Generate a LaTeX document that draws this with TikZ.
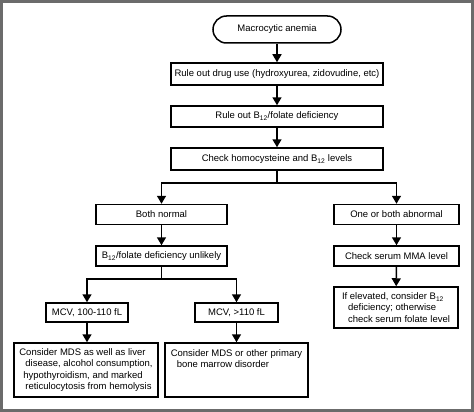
\documentclass[tikz,border=0pt]{standalone}
\usepackage{fontspec}
\setmainfont{Liberation Sans}
\usetikzlibrary{positioning}
\usetikzlibrary{arrows.meta}

\begin{document}
\begin{tikzpicture}[x=1pt, y=-1pt,
    font=\fontsize{9.5}{11.4}\selectfont,
    box/.style={draw, line width=1.5pt, inner xsep=3pt, inner ysep=2pt, minimum height=20pt},
    arr/.style={line width=1.5pt, -{Triangle[length=8pt, width=9pt]}},
    link/.style={line width=1.5pt}]

\useasboundingbox (0,0) rectangle (474,412);
\fill[white] (0,0) rectangle (474,412);
\draw[black!58, line width=3pt] (1.5,1.5) rectangle (472.5,410.5);

% main column
{
\node[box, rounded corners=13.5pt, minimum width=128pt, minimum height=27pt] (start) at (277,29.5) {Macrocytic anemia};

\node[box, minimum width=212pt, minimum height=22pt] (drug) at (277,74) {Rule out drug use (hydroxyurea, zidovudine, etc)};

\node[box, minimum width=212pt, minimum height=21pt] (folate) at (277,116.5) {Rule out B\textsubscript{12}/folate deficiency};

\node[box, minimum width=212pt, minimum height=22pt] (check) at (277,159) {Check homocysteine and B\textsubscript{12} levels};
}

% two branches
{
\node[box, minimum width=131pt] (normal) at (161.5,214.5) {Both normal};
\node[box, minimum width=125pt] (abnormal) at (396.5,214.5) {One or both abnormal};

\node[box, minimum width=131pt] (unlikely) at (161.5,256) {B\textsubscript{12}/folate deficiency unlikely};
\node[box, minimum width=125pt] (mma) at (396.5,256) {Check serum MMA level};

\node[box, minimum width=124pt, minimum height=41pt, align=left] (elevated) at (396,307.5)
{If elevated, consider B\textsubscript{12}\\\hspace*{6pt}deficiency; otherwise\\\hspace*{6pt}check serum folate level};
}

% MCV boxes
{
\node[box, minimum width=82pt, minimum height=19pt] (mcvlow) at (87,312.5) {MCV, 100-110 fL};
\node[box, minimum width=83pt, minimum height=19pt] (mcvhigh) at (236.5,312.5) {MCV, >110 fL};

\node[box, minimum width=144pt, minimum height=54pt, align=left] (liver) at (86,370)
{Consider MDS as well as liver\\\hspace*{6pt}disease, alcohol consumption,\\\hspace*{4pt}hypothyroidism, and marked\\\hspace*{6pt}reticulocytosis from hemolysis};
\node[box, minimum width=143pt, minimum height=54pt, align=left] (primary) at (236.5,370)
{Consider MDS or other primary\\\hspace*{6pt}bone marrow disorder\\\mbox{}\\\mbox{}};
}

% splits
\coordinate (split1) at (277,183);
\coordinate (split2) at (161.5,279);

% connectors
\draw[arr] (start) -- (drug);
\draw[arr] (drug) -- (folate);
\draw[arr] (folate) -- (check);

\draw[link] (check.south) -- (split1);
\draw[arr] (split1) -| (normal.north);
\draw[arr] (split1) -| (abnormal.north);

\draw[arr] (normal) -- (unlikely);
\draw[arr] (abnormal) -- (mma);
\draw[arr] (mma) -- (elevated);

\draw[link] (unlikely.south) -- (split2);
\draw[arr] (split2) -| (mcvlow.north);
\draw[arr] (split2) -| (mcvhigh.north);

\draw[arr] (mcvlow) -- (mcvlow |- liver.north);
\draw[arr] (mcvhigh) -- (mcvhigh |- primary.north);

\end{tikzpicture}
\end{document}
